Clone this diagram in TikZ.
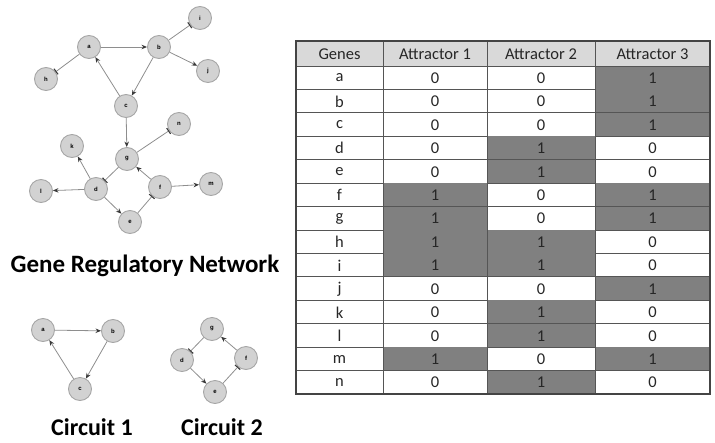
\documentclass[tikz,border=0pt]{standalone}
\usepackage{fontspec}
\setmainfont{Carlito}
\newfontfamily\nodefont{Liberation Sans}
\usetikzlibrary{arrows.meta}
\definecolor{nodefill}{HTML}{D2D2D2}
\definecolor{nodeline}{HTML}{A6A6A6}
\definecolor{edgec}{HTML}{8E8E8E}
\definecolor{tipc}{HTML}{3A3A3A}
\definecolor{headfill}{HTML}{D9D9D9}
\definecolor{cellshade}{HTML}{808080}
\definecolor{gridc}{HTML}{555555}
\tikzset{
  gene/.style={circle, minimum size=23pt, inner sep=0pt, fill=nodefill, draw=nodeline, line width=0.9pt,
    font=\nodefont\fontsize{6}{6}\selectfont\bfseries},
  act/.style={draw=edgec, line width=0.8pt, -{Stealth[length=5.5pt,width=4.5pt,color=tipc]}},
  inh/.style={draw=edgec, line width=0.8pt, -{Bar[width=7pt,line width=1.1pt,color=tipc]}},
  title/.style={font=\fontsize{25}{25}\selectfont\bfseries, inner sep=0pt},
  ctitle/.style={font=\fontsize{24}{24}\selectfont\bfseries, inner sep=0pt},
  cell/.style={font=\fontsize{16.5}{16.5}\selectfont, inner sep=0pt, text=black!85},
}
\begin{document}
\begin{tikzpicture}[x=1pt,y=-1pt]
\useasboundingbox (0,0) rectangle (715,442);
% --- gene regulatory network
\node[gene] (a) at (89,47) {a};
\node[gene] (b) at (159,47) {b};
\node[gene] (i) at (200,18) {i};
\node[gene] (j) at (208,71) {j};
\node[gene] (h) at (46,79) {h};
\node[gene] (c) at (126,106) {c};
\node[gene] (n) at (179,124) {n};
\node[gene] (k) at (72,146) {k};
\node[gene] (g) at (127,159) {g};
\node[gene] (l) at (41,191) {l};
\node[gene] (d) at (96,189) {d};
\node[gene] (f) at (160,187) {f};
\node[gene] (m) at (211,184) {m};
\node[gene] (e) at (130,222) {e};
\draw[act] (a) -- (b);
\draw[act] (b) -- (c);
\draw[act] (c) -- (a);
\draw[inh] (a) -- (h);
\draw[inh] (b) -- (i);
\draw[act] (b) -- (j);
\draw[act] (c) -- (g);
\draw[inh] (g) -- (n);
\draw[inh] (g) -- (d);
\draw[act] (d) -- (k);
\draw[act] (d) -- (l);
\draw[act] (d) -- (e);
\draw[inh] (e) -- (f);
\draw[act] (f) -- (g);
\draw[act] (f) -- (m);
\node[title] (grn) at (145,266) {Gene Regulatory Network};
% --- circuit 1
\node[gene] (ca) at (43,330) {a};
\node[gene] (cb) at (113,331) {b};
\node[gene] (cc) at (80,389) {c};
\draw[act] (ca) -- (cb);
\draw[act] (cb) -- (cc);
\draw[act] (cc) -- (ca);
\node[ctitle] (t1) at (92,427) {Circuit 1};
% --- circuit 2
\node[gene] (cg) at (212,329) {g};
\node[gene] (cd) at (182,360) {d};
\node[gene] (cf) at (246,358) {f};
\node[gene] (ce) at (215,392) {e};
\draw[inh] (cg) -- (cd);
\draw[act] (cd) -- (ce);
\draw[inh] (ce) -- (cf);
\draw[act] (cf) -- (cg);
\node[ctitle] (t2) at (222,427) {Circuit 2};
% --- table
\fill[headfill] (296,41) rectangle (710,66);
\node[cell] (h0) at (339.5,54) {Genes};
\node[cell] (h1) at (435,54) {Attractor 1};
\node[cell] (h2) at (541,54) {Attractor 2};
\node[cell] (h3) at (652.5,54) {Attractor 3};
\foreach \gn/\p/\q/\r [count=\i from 0] in {a/0/0/1,b/0/0/1,c/0/0/1,d/0/1/0,e/0/1/0,f/1/0/1,g/1/0/1,h/1/1/0,i/1/1/0,j/0/0/1,k/0/1/0,l/0/1/0,m/1/0/1,n/0/1/0}{
  \pgfmathsetmacro\yt{66+23.43*\i}
  \pgfmathsetmacro\yb{\yt+23.43}
  \pgfmathsetmacro\ym{\yt+12}
  \ifnum\p=1 \fill[cellshade] (383,\yt) rectangle (487,\yb); \fi
  \ifnum\q=1 \fill[cellshade] (487,\yt) rectangle (595,\yb); \fi
  \ifnum\r=1 \fill[cellshade] (595,\yt) rectangle (710,\yb); \fi
  \node[cell] (g\i) at (339.5,\ym) {\gn};
  \node[cell] (p\i) at (435,\ym) {\p};
  \node[cell] (q\i) at (541,\ym) {\q};
  \node[cell] (r\i) at (652.5,\ym) {\r};
  \draw[gridc, line width=0.8pt] (296,\yb) -- (710,\yb);
}
\draw[gridc, line width=0.8pt] (296,66) -- (710,66);
\foreach \x in {383,487,595}{\draw[gridc, line width=0.8pt] (\x,41) -- (\x,394);}
\draw[gridc!80!black, line width=1.1pt] (296,41) rectangle (710,394);
\end{tikzpicture}
\end{document}
